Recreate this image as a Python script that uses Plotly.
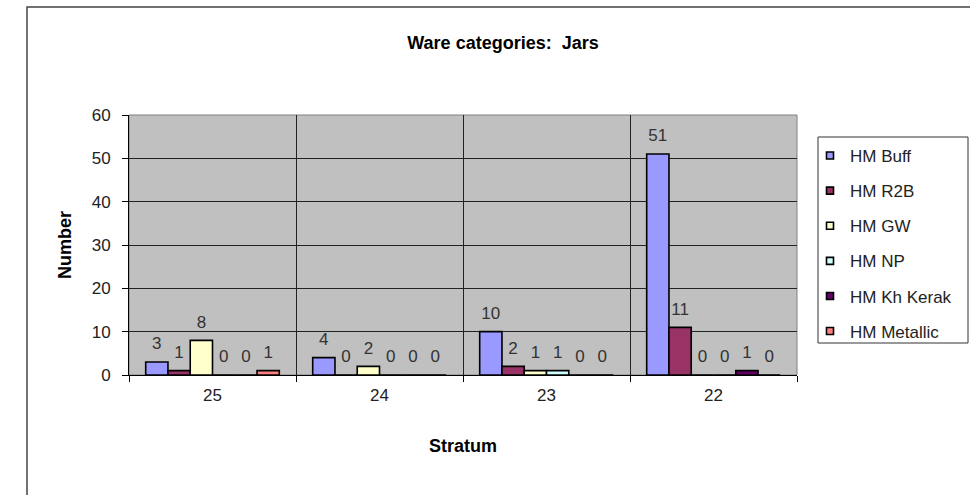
import plotly.graph_objects as go

# Stratum categories (x axis) and jar counts per ware
strata = ["25", "24", "23", "22"]
wares = ["HM Buff", "HM R2B", "HM GW", "HM NP", "HM Kh Kerak", "HM Metallic"]
hm_buff = [3, 4, 10, 51]
hm_r2b = [1, 0, 2, 11]
hm_gw = [8, 2, 1, 0]
hm_np = [0, 0, 1, 0]
hm_kh_kerak = [0, 0, 0, 1]
hm_metallic = [1, 0, 0, 0]
y_ticks = [0, 10, 20, 30, 40, 50, 60]

series = [hm_buff, hm_r2b, hm_gw, hm_np, hm_kh_kerak, hm_metallic]
colors = ["#9999FF", "#993366", "#FFFFCC", "#CCFFFF", "#660066", "#FF8080"]

FONT = "Liberation Sans, Arial, sans-serif"

fig = go.Figure()

for i, (name, vals, col) in enumerate(zip(wares, series, colors)):
    # bars
    fig.add_trace(go.Bar(
        x=strata, y=vals, name=name,
        marker=dict(color=col, line=dict(color="black", width=1.6)),
        offsetgroup=str(i), showlegend=False, hoverinfo="skip",
    ))
for i, (name, vals, col) in enumerate(zip(wares, series, colors)):
    # value labels sitting above each bar
    fig.add_trace(go.Scatter(
        x=strata, y=vals, mode="markers+text", text=[str(v) for v in vals],
        textposition="top center",
        textfont=dict(family=FONT, size=17, color="#333333"),
        marker=dict(size=12, opacity=0),
        offsetgroup=str(i), showlegend=False, hoverinfo="skip", cliponaxis=False,
    ))
for i, (name, col) in enumerate(zip(wares, colors)):
    # legend entries with small square keys
    fig.add_trace(go.Scatter(
        x=[None], y=[None], mode="markers", name=name,
        marker=dict(symbol="square", size=7, color=col,
                    line=dict(color="black", width=1.6)),
        legendgroup=name,
    ))

L, R, T, B = 129, 173, 115, 120
W, H = 970, 495
pw, ph = W - L - R, H - T - B

def px_x(x):
    return (x - L) / pw

def px_y(y):
    return (H - B - y) / ph

fig.update_layout(
    width=W, height=H,
    margin=dict(l=L, r=R, t=T, b=B, pad=0),
    paper_bgcolor="white",
    plot_bgcolor="#C0C0C0",
    barmode="group", bargap=0.2, bargroupgap=0,
    scattermode="group", scattergap=0.2,
    font=dict(family=FONT, size=17, color="#222222"),
    title=dict(text="<b>Ware categories:\u00a0 Jars</b>",
               font=dict(family=FONT, size=18, color="black"),
               x=503 / W, xanchor="center", xref="container",
               y=1 - 43 / H, yanchor="middle", yref="container"),
    xaxis=dict(
        type="category", tickson="boundaries", ticks="outside", ticklen=6,
        tickcolor="black", showgrid=True, gridcolor="#222222", gridwidth=1,
        showline=True, linecolor="black", linewidth=1,
        ticklabelstandoff=5,
        tickfont=dict(family=FONT, size=17, color="#222222"),
        title=dict(text="<b>Stratum</b>", standoff=34,
                   font=dict(family=FONT, size=18, color="black")),
    ),
    yaxis=dict(
        range=[0, 60], tickvals=y_ticks, ticks="outside", ticklen=6,
        tickcolor="black", showgrid=True, gridcolor="#222222", gridwidth=1,
        zeroline=False, showline=True, linecolor="black", linewidth=1,
        ticklabelstandoff=8,
        tickfont=dict(family=FONT, size=17, color="#222222"),
        title=dict(text="<b>Number</b>", standoff=15,
                   font=dict(family=FONT, size=18, color="black")),
    ),
    legend=dict(
        x=px_x(810), y=px_y(138), xanchor="left", yanchor="top",
        bgcolor="rgba(0,0,0,0)", borderwidth=0,
        font=dict(family=FONT, size=17, color="#222222"),
        tracegroupgap=10, itemwidth=30,
    ),
    showlegend=True,
    shapes=[
        # plot area frame (top/right)
        dict(type="rect", xref="paper", yref="paper", x0=0, x1=1, y0=0, y1=1,
             line=dict(color="#808080", width=1), layer="below"),
        # legend box
        dict(type="rect", xref="paper", yref="paper",
             x0=px_x(818), x1=px_x(968), y0=px_y(343), y1=px_y(137),
             line=dict(color="#333333", width=1)),
        # chart area border
        dict(type="rect", xref="paper", yref="paper",
             x0=px_x(27), x1=px_x(990), y0=px_y(520), y1=px_y(7),
             line=dict(color="#444444", width=1.5)),
    ],
)

fig.write_html("out.html")
